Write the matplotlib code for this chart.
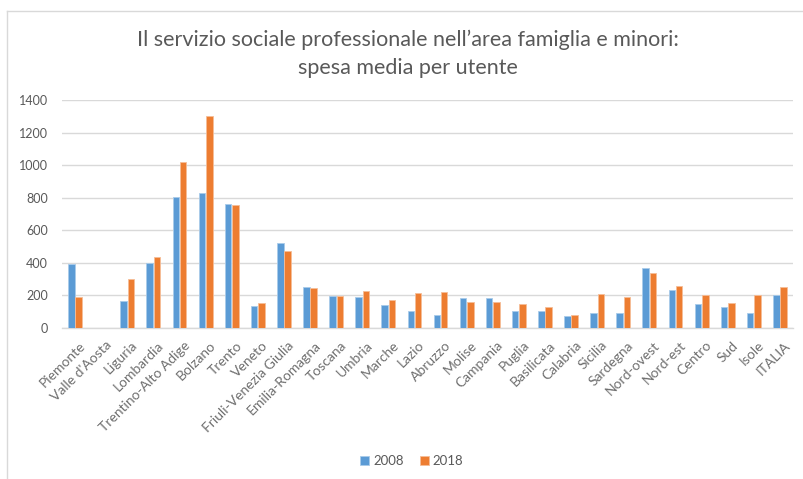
import matplotlib
matplotlib.use("Agg")
import matplotlib.pyplot as plt
import numpy as np
from matplotlib.lines import Line2D
import matplotlib.transforms as mtransforms

categories = ["Piemonte", "Valle d'Aosta", "Liguria", "Lombardia", "Trentino-Alto Adige",
              "Bolzano", "Trento", "Veneto", "Friuli-Venezia Giulia", "Emilia-Romagna",
              "Toscana", "Umbria", "Marche", "Lazio", "Abruzzo", "Molise", "Campania",
              "Puglia", "Basilicata", "Calabria", "Sicilia", "Sardegna", "Nord-ovest",
              "Nord-est", "Centro", "Sud", "Isole", "ITALIA"]
v2008 = [396, np.nan, 166, 400, 806, 827, 761, 137, 525, 252, 197, 188, 142, 105, 78,
         186, 186, 103, 107, 76, 93, 95, 371, 233, 148, 132, 93, 204]
v2018 = [189, np.nan, 300, 437, 1017, 1300, 757, 152, 474, 248, 195, 227, 173, 212, 221,
         157, 161, 148, 128, 80, 210, 192, 336, 260, 204, 155, 200, 249]
yticks = [0, 200, 400, 600, 800, 1000, 1200, 1400]
series_names = ["2008", "2018"]

plt.rcParams['font.family'] = ['Lato', 'DejaVu Sans']
gray = "#595959"
lgray = "#6F6F6F"
blue = "#5B9BD5"
orange = "#ED7D31"
grid = "#D9D9D9"

fig = plt.figure(figsize=(8.04, 4.79), dpi=100)
ax = fig.add_axes([62/804, 1-328/479, (793-62)/804, (328-100)/479])

x = np.arange(len(categories))
w = 0.25
off = 0.14
ax.bar(x - off, v2008, width=w, color=blue, edgecolor="#A9CBEA", linewidth=0.6, label=series_names[0], zorder=3)
ax.bar(x + off, v2018, width=w, color=orange, edgecolor="#F6BE98", linewidth=0.6, label=series_names[1], zorder=3)

ax.set_xlim(-0.5, len(categories) - 0.5)
ax.set_ylim(0, 1400)
ax.set_yticks(yticks)
ax.set_yticklabels([str(t) for t in yticks], color=gray, fontsize=9)
ax.yaxis.grid(True, color=grid, linewidth=1, zorder=0)
ax.tick_params(axis='y', length=0, pad=10)
ax.set_xticks(x)
ax.set_xticklabels(categories, rotation=45, ha='right', rotation_mode='anchor',
                   color=lgray, fontsize=10)
ax.tick_params(axis='x', length=0, pad=8)
shift = mtransforms.ScaledTranslation(4/100, 0, fig.dpi_scale_trans)
for lab in ax.get_xticklabels():
    lab.set_transform(lab.get_transform() + shift)
for s in ['top', 'right', 'left']:
    ax.spines[s].set_visible(False)
ax.spines['bottom'].set_color(grid)
ax.spines['bottom'].set_linewidth(1)

fig.text(0.508, 1-40/479, "Il servizio sociale professionale nell\u2019area famiglia e minori:",
         ha='center', va='center', fontsize=15.5, color=gray)
fig.text(0.508, 1-68/479, "spesa media per utente",
         ha='center', va='center', fontsize=15.5, color=gray)

leg = fig.legend(loc='center', bbox_to_anchor=(0.512, 1-461/479), ncol=2, frameon=False,
                 fontsize=9.5, handlelength=0.7, handleheight=0.7, handletextpad=0.3,
                 columnspacing=1.2)
for t in leg.get_texts():
    t.set_color(gray)

fig.add_artist(Line2D([7/804, 1.0], [1-11/479, 1-11/479], color=grid, linewidth=1, transform=fig.transFigure))
fig.add_artist(Line2D([7/804, 7/804], [1-11/479, 0], color=grid, linewidth=1, transform=fig.transFigure))

fig.savefig("out.png", dpi=100)
